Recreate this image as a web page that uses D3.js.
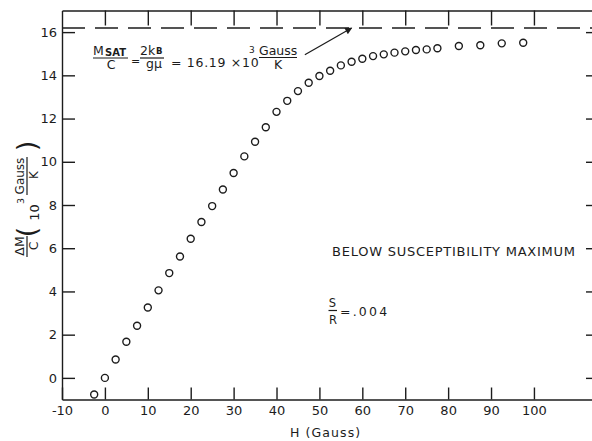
<!DOCTYPE html>
<html lang="en">
<head>
<meta charset="UTF-8">
<title>Delta M / C versus H</title>
<style>
body { margin: 0; background: #fff; }
svg { display: block; }
text { font-family: "DejaVu Sans", sans-serif; fill: #1c1c1c; }
.axis path, .axis line { stroke: #1c1c1c; stroke-width: 1.4px; }
.ink { stroke: #1c1c1c; stroke-width: 1.2px; fill: none; }
</style>
</head>
<body>
<script src="https://cdnjs.cloudflare.com/ajax/libs/d3/7.8.5/d3.min.js"></script>
<script>
// field H (Gauss) and measured Delta M / C (10^3 Gauss/K)
var fieldH = [-2.5, 0, 2.5, 5, 7.5, 10, 12.5, 15, 17.5, 20, 22.5, 25, 27.5, 30,
  32.5, 35, 37.5, 40, 42.5, 45, 47.5, 50, 52.5, 55, 57.5, 60, 62.5, 65, 67.5,
  70, 72.5, 75, 77.5, 82.5, 87.5, 92.5, 97.5];
var deltaM = [-0.77, 0, 0.85, 1.67, 2.41, 3.26, 4.05, 4.85, 5.62, 6.44, 7.21,
  7.95, 8.72, 9.48, 10.25, 10.93, 11.6, 12.31, 12.82, 13.27, 13.66, 13.97,
  14.21, 14.46, 14.63, 14.77, 14.89, 14.97, 15.05, 15.11, 15.17, 15.2, 15.25,
  15.36, 15.39, 15.48, 15.51];
var xTicks = [-10, 0, 10, 20, 30, 40, 50, 60, 70, 80, 90, 100];
var yTicks = [0, 2, 4, 6, 8, 10, 12, 14, 16];
var mSat = 16.19;

var width = 592, height = 441;
var svg = d3.select("body").append("svg")
  .attr("width", width).attr("height", height);

var x = d3.scaleLinear().domain([-10, 114]).range([62, 594]);
var y = d3.scaleLinear().domain([-1, 17]).range([399.5, 10.5]);

// frame + inward ticks
svg.append("g").attr("class", "axis")
  .attr("transform", "translate(0," + y(-1) + ")")
  .call(d3.axisBottom(x).tickValues(xTicks).tickSize(-12).tickSizeOuter(0)
    .tickPadding(6).tickFormat(d => String(d)));
svg.append("g").attr("class", "axis")
  .attr("transform", "translate(" + x(-10) + ",0)")
  .call(d3.axisLeft(y).tickValues(yTicks).tickSize(-13).tickSizeOuter(0)
    .tickPadding(5).tickFormat(d => String(d)));
svg.append("g").attr("class", "axis")
  .attr("transform", "translate(0," + y(17) + ")")
  .call(d3.axisTop(x).tickValues(xTicks.slice(1)).tickSize(-15).tickSizeOuter(0)
    .tickFormat(""));
svg.append("g").attr("class", "axis")
  .attr("transform", "translate(" + x(114) + ",0)")
  .call(d3.axisRight(y).tickValues(yTicks).tickSize(-8).tickSizeOuter(0)
    .tickFormat(""));
svg.selectAll(".axis .tick text")
  .attr("font-size", 13).attr("font-family", "DejaVu Sans, sans-serif")
  .attr("fill", "#1c1c1c");

// saturation line
svg.append("line")
  .attr("x1", x(-10)).attr("x2", x(114))
  .attr("y1", y(mSat)).attr("y2", y(mSat))
  .attr("stroke", "#1c1c1c").attr("stroke-width", 1.5)
  .attr("stroke-dasharray", "23,10");

// data points
svg.append("g").selectAll("circle")
  .data(fieldH.map((h, i) => [h, deltaM[i]]))
  .enter().append("circle")
  .attr("cx", d => x(d[0])).attr("cy", d => y(d[1]))
  .attr("r", 3.5)
  .attr("fill", "#fff").attr("stroke", "#1c1c1c").attr("stroke-width", 1.4);

function txt(g, s, px, py, size, anchor, extra) {
  var t = g.append("text").attr("x", px).attr("y", py)
    .attr("font-size", size).attr("text-anchor", anchor || "start").text(s);
  if (extra) extra(t);
  return t;
}
function bar(g, x1, x2, yy) {
  g.append("line").attr("class", "ink")
    .attr("x1", x1).attr("x2", x2).attr("y1", yy).attr("y2", yy);
}

// x label
txt(svg, "H (Gauss)", 290, 437, 12.5, "start",
  t => t.attr("letter-spacing", 1.1));

// y label (rotated)
var yl = svg.append("g").attr("transform", "translate(27,199) rotate(-90)");
txt(yl, "\u0394M", -47, -3, 12.5, "middle");
bar(yl, -58, -37, 0);
txt(yl, "C", -47, 11, 12.5, "middle");
txt(yl, "(", -33, 8.5, 27, "middle");
txt(yl, "10", -13.5, 11.5, 13, "middle");
txt(yl, "3", -2, -3, 9.5, "middle");
txt(yl, "Gauss", 23, -3, 12, "middle");
bar(yl, 4, 42, 0);
txt(yl, "K", 24, 11, 12, "middle");
txt(yl, ")", 53, 8.5, 27, "middle");

// saturation annotation
var an = svg.append("g");
txt(an, "M", 93, 54.5, 12.5);
txt(an, "SAT", 105, 55.5, 10, "start", t => t.attr("font-weight", "bold"));
bar(an, 93, 128, 58);
txt(an, "C", 111, 69, 12.5, "middle");
txt(an, "=", 135.5, 65, 11, "middle");
txt(an, "2k", 140, 54.5, 12.5);
txt(an, "B", 156, 54, 8.5, "start", t => t.attr("font-weight", "bold"));
bar(an, 140, 164, 58);
txt(an, "g\u03bc", 154, 68, 12.5, "middle");
txt(an, "= 16.19 \u00d710", 171, 66.5, 12.5, "start",
  t => t.attr("letter-spacing", 0.7));
txt(an, "3", 249, 52.5, 9);
txt(an, "Gauss", 259, 54.5, 12.5);
bar(an, 259, 297, 57.5);
txt(an, "K", 278, 69, 12.5, "middle");

// arrow to the dashed line
svg.append("defs").append("marker")
  .attr("id", "head").attr("viewBox", "0 0 10 10")
  .attr("refX", 9).attr("refY", 5)
  .attr("markerWidth", 10).attr("markerHeight", 7)
  .attr("markerUnits", "userSpaceOnUse").attr("orient", "auto")
  .append("path").attr("d", "M0,0 L10,5 L0,10 Z").attr("fill", "#1c1c1c");
svg.append("line").attr("class", "ink")
  .attr("x1", x(46.6)).attr("y1", y(14.95))
  .attr("x2", x(57.5)).attr("y2", y(mSat))
  .attr("marker-end", "url(#head)");

// right-hand labels
txt(svg, "BELOW SUSCEPTIBILITY MAXIMUM", 332, 255.5, 13, "start",
  t => t.attr("textLength", 243).attr("lengthAdjust", "spacing"));
txt(svg, "S", 332.5, 307, 11.5, "middle");
bar(svg, 328.5, 337, 310.5);
txt(svg, "R", 333, 323.5, 11.5, "middle");
txt(svg, "=.004", 340, 316, 12.5, "start", t => t.attr("letter-spacing", 2.2));
</script>
</body>
</html>
